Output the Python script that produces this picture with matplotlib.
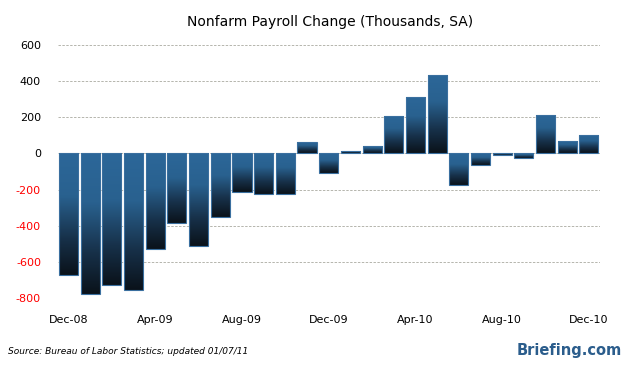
import numpy as np
import matplotlib
matplotlib.use('Agg')
import matplotlib.pyplot as plt
from matplotlib.colors import LinearSegmentedColormap

# monthly payroll change, thousands, Dec-08 .. Dec-10
months = ['Dec-08', 'Jan-09', 'Feb-09', 'Mar-09', 'Apr-09', 'May-09', 'Jun-09',
          'Jul-09', 'Aug-09', 'Sep-09', 'Oct-09', 'Nov-09', 'Dec-09', 'Jan-10',
          'Feb-10', 'Mar-10', 'Apr-10', 'May-10', 'Jun-10', 'Jul-10', 'Aug-10',
          'Sep-10', 'Oct-10', 'Nov-10', 'Dec-10']
payroll = [-675, -780, -730, -755, -530, -387, -515, -350, -215, -227, -226,
           62, -110, 12, 39, 208, 313, 433, -177, -66, -6, -26, 211, 70, 103]
y_ticks = [-800, -600, -400, -200, 0, 200, 400, 600]

plt.rcParams['font.family'] = ['DejaVu Sans']

fig = plt.figure(figsize=(6.28, 3.69), dpi=100)
ax = fig.add_axes([57.7 / 628, 1 - 298 / 369, 542 / 628, 253 / 369])

x = np.arange(len(payroll))
bars = ax.bar(x, payroll, width=0.88, color='none', edgecolor='#3a6f9f',
              linewidth=0.8, zorder=3)

# blue at the top of each bar fading to near-black at the bottom
cmap = LinearSegmentedColormap.from_list(
    'bar', [(0.0, '#2c6799'), (0.35, '#29618f'), (0.7, '#17314a'), (1.0, '#0a121a')])
grad = np.linspace(0, 1, 256).reshape(-1, 1)
for b in bars:
    x0, y0 = b.get_x(), b.get_y()
    w, h = b.get_width(), b.get_height()
    lo, hi = min(y0, y0 + h), max(y0, y0 + h)
    im = ax.imshow(grad, cmap=cmap, aspect='auto', extent=(x0, x0 + w, lo, hi),
                   origin='upper', zorder=2)
    im.set_clip_path(b)

ax.set_xlim(-0.5, len(payroll) - 0.5)
ax.set_ylim(-800, 600)
ax.set_yticks(y_ticks)
ax.set_yticklabels([str(v) for v in y_ticks])
for lab, v in zip(ax.get_yticklabels(), y_ticks):
    lab.set_color('#ff0000' if v < 0 else 'black')
ax.set_xticks(x[::4])
ax.set_xticklabels(months[::4])
ax.tick_params(axis='both', length=0, labelsize=8)
ax.tick_params(axis='y', pad=12)
ax.tick_params(axis='x', pad=12)
ax.grid(axis='y', color='#b5b5ad', linestyle=(0, (2.5, 1.5)), linewidth=0.7, zorder=0)
ax.set_axisbelow(True)
for s in ax.spines.values():
    s.set_visible(False)

fig.text(330 / 628, 1 - 22 / 369, 'Nonfarm Payroll Change (Thousands, SA)',
         ha='center', va='center', fontsize=10)
fig.text(8 / 628, 1 - 352 / 369, 'Source: Bureau of Labor Statistics; updated 01/07/11',
         ha='left', va='center', fontsize=6.5, style='italic')
fig.text(622 / 628, 1 - 350 / 369, 'Briefing.com', ha='right', va='center',
         fontsize=10.5, fontweight='bold', color='#2b5d8c')

fig.savefig('out.png', dpi=100)
